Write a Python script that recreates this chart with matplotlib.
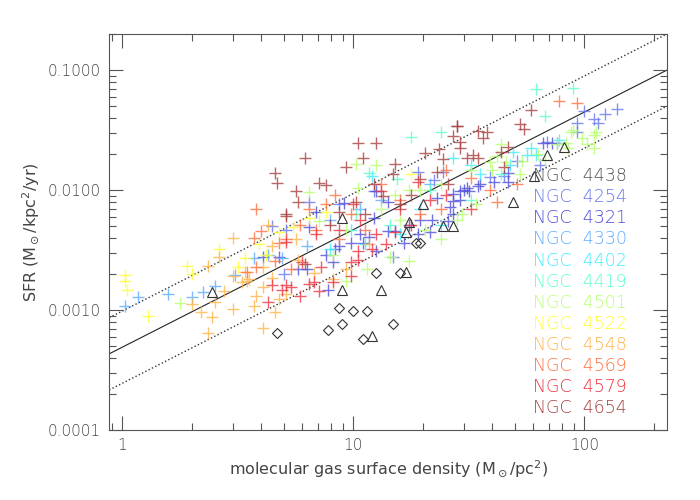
import numpy as np
import matplotlib
matplotlib.use("Agg")
import matplotlib.pyplot as plt
from matplotlib.ticker import LogLocator, FixedLocator, FixedFormatter, NullFormatter

# values are log10(gas surface density), log10(SFR)
n4438_tri = [(0.39, -2.85), (0.95, -2.23), (0.95, -2.83), (1.12, -2.83), (1.08, -3.22),
             (1.23, -2.68), (1.24, -2.27), (1.23, -2.35), (1.30, -2.12), (1.39, -2.30),
             (1.43, -2.30), (1.69, -2.10), (1.78, -1.88), (1.84, -1.71), (1.91, -1.64)]
n4438_dia = [(0.67, -3.19), (0.89, -3.17), (0.94, -2.98), (0.95, -3.12), (1.00, -3.01),
             (1.04, -3.24), (1.06, -3.01), (1.10, -2.69), (1.17, -3.12), (1.20, -2.69),
             (1.27, -2.44), (1.29, -2.44)]

n4254 = [(2.00, -1.34), (2.09, -1.37), (2.14, -1.32), (2.04, -1.41), (2.06, -1.44),
         (1.97, -1.44), (1.97, -1.52), (1.84, -1.60), (1.88, -1.61), (1.81, -1.79),
         (0.65, -2.30), (0.71, -2.33), (0.70, -2.70), (1.17, -2.56), (0.81, -2.10),
         (1.09, -2.01), (1.28, -1.85), (1.39, -1.85), (1.35, -1.92), (1.71, -1.76),
         (1.65, -1.88), (1.59, -1.89), (0.94, -2.12)]
n4321 = [(0.61, -2.56), (0.68, -2.56), (1.43, -2.03), (1.15, -2.10), (1.34, -2.25),
         (1.41, -2.26), (0.81, -2.31), (0.84, -2.18), (1.09, -2.23), (1.07, -2.39),
         (1.15, -2.34), (1.67, -1.86), (1.82, -1.61), (1.86, -1.61), (1.67, -1.93),
         (1.55, -1.95), (1.49, -1.98), (1.46, -2.01), (1.43, -2.09), (1.42, -2.14),
         (1.43, -2.20), (1.36, -2.07), (1.50, -2.01), (0.76, -2.66), (0.89, -2.83),
         (0.88, -2.54), (0.91, -2.60), (0.94, -2.47), (0.99, -2.44), (1.04, -2.44),
         (1.10, -2.51), (1.22, -2.44), (1.33, -2.35), (1.03, -2.37), (0.80, -2.66),
         (0.92, -2.49), (1.28, -2.37), (1.48, -2.00), (1.54, -1.97), (1.46, -2.08),
         (1.61, -1.93), (1.29, -2.25), (1.18, -2.34), (1.24, -2.29), (0.96, -2.11),
         (1.10, -2.01)]
n4330 = [(0.01, -2.97), (0.07, -2.89), (0.20, -2.87), (0.30, -2.89), (0.35, -2.85),
         (0.40, -2.80), (0.49, -2.71), (0.57, -2.57), (0.63, -2.54), (0.69, -2.57),
         (0.80, -2.47), (0.90, -2.25), (1.03, -2.16), (1.12, -2.08), (1.33, -1.95)]
n4402 = [(1.08, -1.88), (1.89, -1.58), (1.77, -1.65), (1.79, -1.71), (1.43, -1.73),
         (1.69, -1.68), (1.75, -1.71), (1.29, -2.16), (1.38, -2.29), (1.20, -2.37),
         (0.99, -2.33), (1.05, -2.45), (1.55, -1.87), (1.51, -1.79), (0.90, -2.49),
         (1.68, -1.79)]
n4419 = [(1.25, -1.56), (1.38, -1.52), (1.07, -1.86), (1.19, -1.91), (1.79, -1.16),
         (1.95, -1.15), (1.83, -1.38), (1.33, -2.00), (1.51, -2.08), (1.64, -1.87),
         (1.01, -2.20), (1.16, -2.29)]
n4501 = [(0.25, -2.94), (1.01, -1.78), (1.10, -1.79), (0.81, -2.02), (0.85, -2.26),
         (1.02, -1.98), (1.24, -2.00), (1.29, -2.00), (1.94, -1.52), (2.05, -1.52),
         (1.99, -1.57), (2.01, -1.62), (2.04, -1.65), (1.92, -1.61), (1.64, -1.62),
         (1.59, -1.77), (1.60, -1.83), (1.95, -1.50), (2.04, -1.54), (1.88, -1.62),
         (1.93, -1.65), (1.80, -1.70), (1.73, -1.76), (1.66, -1.77), (1.45, -2.25),
         (1.62, -1.72), (1.06, -2.66), (1.24, -2.59), (0.97, -2.76), (0.91, -2.54),
         (1.16, -2.56), (1.38, -2.41), (1.31, -2.33), (1.20, -2.25), (1.12, -2.16),
         (0.97, -2.33), (1.47, -2.20), (1.53, -2.12), (1.72, -1.87), (1.83, -1.75),
         (1.51, -1.83), (1.38, -1.95), (1.18, -2.04)]
n4522 = [(0.01, -2.71), (0.01, -2.76), (0.02, -2.83), (0.11, -3.05), (0.28, -2.63),
         (0.30, -2.70), (0.42, -2.49), (0.53, -2.57), (0.50, -2.64), (0.59, -2.45),
         (0.68, -2.35), (0.74, -2.31), (0.88, -2.18), (1.25, -1.87), (0.81, -2.23),
         (0.62, -2.54)]
n4548 = [(0.48, -2.40), (0.37, -2.63), (0.42, -2.56), (0.40, -2.93), (0.34, -3.02),
         (0.39, -3.06), (0.37, -3.19), (0.48, -2.99), (0.44, -2.84), (0.52, -2.77),
         (0.55, -2.74), (0.61, -2.81), (0.58, -2.88), (0.57, -2.97), (0.61, -3.15),
         (0.66, -3.02), (0.65, -2.73), (0.65, -2.47), (0.61, -2.64), (0.71, -2.87),
         (0.75, -2.41), (0.53, -2.68), (0.63, -2.29), (0.48, -2.72), (0.68, -2.91),
         (0.76, -2.58), (0.83, -2.69), (0.97, -2.66), (0.91, -2.74), (1.07, -2.45),
         (0.30, -2.95), (0.54, -2.76)]
n4569 = [(0.58, -2.16), (0.60, -2.34), (0.57, -2.40), (0.68, -2.44), (0.71, -2.41),
         (0.58, -2.64), (0.54, -2.68), (0.92, -2.04), (1.12, -1.95), (1.62, -2.10),
         (1.71, -1.95), (1.89, -1.26), (1.97, -1.27), (1.51, -1.90), (1.20, -2.08),
         (1.29, -2.20), (0.77, -2.29), (0.84, -2.33), (0.66, -2.59), (0.94, -2.41),
         (1.05, -2.33), (0.73, -2.66), (1.38, -2.16), (1.40, -1.83), (1.59, -2.00),
         (0.88, -2.12), (0.81, -2.16), (0.99, -2.20)]
n4579 = [(0.65, -2.79), (0.63, -2.93), (0.71, -2.79), (0.69, -2.83), (0.77, -2.88),
         (0.85, -2.84), (0.81, -2.78), (0.83, -2.77), (0.78, -2.60), (0.91, -2.77),
         (0.99, -2.72), (1.02, -2.58), (0.99, -2.60), (1.02, -2.51), (1.10, -2.37),
         (1.18, -2.35), (0.84, -2.37), (0.71, -2.43), (0.73, -2.81), (1.12, -2.01),
         (1.00, -2.12), (1.28, -1.93), (1.08, -2.49), (1.03, -2.25), (1.20, -2.16),
         (1.25, -2.29), (1.33, -2.08), (0.94, -2.33), (1.40, -2.04), (1.51, -2.16),
         (1.14, -2.45), (0.86, -2.64)]
n4654 = [(0.66, -1.86), (0.67, -1.94), (0.71, -2.22), (0.75, -2.01), (0.76, -2.10),
         (0.71, -2.20), (0.79, -1.73), (0.85, -1.94), (0.88, -1.96), (0.97, -1.81),
         (1.02, -1.61), (1.10, -1.61), (1.04, -1.73), (1.18, -1.78), (1.17, -1.87),
         (1.01, -2.10), (1.09, -1.95), (1.31, -1.69), (1.37, -1.66), (1.39, -1.74),
         (1.45, -1.47), (1.43, -1.55), (1.45, -1.47), (1.54, -1.51), (1.58, -1.52),
         (1.56, -1.57), (1.46, -1.60), (1.46, -1.65), (1.52, -1.71), (1.49, -1.73),
         (1.54, -1.73), (1.64, -1.68), (1.65, -1.81), (1.67, -1.64), (1.72, -1.45),
         (1.74, -1.49), (1.77, -1.33), (1.29, -1.91), (1.25, -2.04), (1.20, -2.12),
         (1.13, -2.05), (0.94, -2.18), (1.36, -1.85), (1.41, -1.95), (0.90, -2.29),
         (0.79, -2.62), (1.05, -2.20)]

galaxies = [("NGC  4254", n4254, "#6677ee"), ("NGC  4321", n4321, "#4d4dd9"),
            ("NGC  4330", n4330, "#5cacff"), ("NGC  4402", n4402, "#3ceeff"),
            ("NGC  4419", n4419, "#5effc8"), ("NGC  4501", n4501, "#b8ff70"),
            ("NGC  4522", n4522, "#ffff30"), ("NGC  4548", n4548, "#ffb44a"),
            ("NGC  4569", n4569, "#ff7040"), ("NGC  4579", n4579, "#ee3340"),
            ("NGC  4654", n4654, "#a84040")]

# SFR = coef * sigma^slope, dotted lines a factor 2 either side
fit_coef = 4.9e-4
fit_slope = 0.98
fit_factor = 2.0

txt = "#444444"
plt.rcParams["font.family"] = "DejaVu Sans"
plt.rcParams["font.weight"] = "light"
plt.rcParams["mathtext.default"] = "regular"

fig = plt.figure(figsize=(7, 5), dpi=100)
ax = fig.add_axes([0.156, 0.14, 0.797, 0.792])
ax.set_xscale("log")
ax.set_yscale("log")
ax.set_xlim(0.878, 228)
ax.set_ylim(1e-4, 0.2)


def unlog(pts):
    a = np.array(pts)
    return 10 ** a[:, 0], 10 ** a[:, 1]


for name, pts, col in galaxies:
    x, y = unlog(pts)
    ax.plot(x, y, "+", color=col, ms=8, mew=1.0, alpha=0.8, zorder=2)

x, y = unlog(n4438_tri)
ax.plot(x, y, "^", ms=7, mfc="none", mec="#333333", mew=0.8, zorder=3)
x, y = unlog(n4438_dia)
ax.plot(x, y, "D", ms=5, mfc="none", mec="#333333", mew=0.8, zorder=3)

xs = np.logspace(np.log10(0.878), np.log10(228), 50)
fit = fit_coef * xs ** fit_slope
ax.plot(xs, fit, "-", color="#222222", lw=0.8, zorder=1)
ax.plot(xs, fit * fit_factor, ":", color="#333333", lw=1.0, zorder=1)
ax.plot(xs, fit / fit_factor, ":", color="#333333", lw=1.0, zorder=1)

# legend as coloured text
labels = [("NGC  4438", "#555555")] + [(g[0], g[2]) for g in galaxies]
for i, (lab, col) in enumerate(labels):
    ax.text(0.76, 0.641 - i * 0.0533, lab, color=col, fontsize=12.5,
            transform=ax.transAxes, va="center", ha="left", zorder=4)

ax.yaxis.set_major_locator(FixedLocator([1e-4, 1e-3, 1e-2, 1e-1]))
ax.yaxis.set_major_formatter(FixedFormatter(["0.0001", "0.0010", "0.0100", "0.1000"]))
ax.yaxis.set_minor_locator(LogLocator(base=10, subs=np.arange(2, 10)))
ax.yaxis.set_minor_formatter(NullFormatter())
ax.xaxis.set_major_locator(FixedLocator([1, 10, 100]))
ax.xaxis.set_major_formatter(FixedFormatter(["1", "10", "100"]))
ax.xaxis.set_minor_locator(LogLocator(base=10, subs=np.arange(2, 10)))
ax.xaxis.set_minor_formatter(NullFormatter())

ax.tick_params(which="both", direction="in", top=True, right=True,
               colors="#555555", labelcolor=txt, labelsize=11, width=0.8)
ax.tick_params(which="major", length=10, pad=6)
ax.tick_params(which="minor", length=5)
for s in ax.spines.values():
    s.set_color("#555555")
    s.set_linewidth(0.8)

ax.set_xlabel(r"molecular gas surface density (M$_\odot$/pc$^2$)", color=txt, fontsize=11.5)
ax.set_ylabel(r"SFR (M$_\odot$/kpc$^2$/yr)", color=txt, fontsize=11.5)

fig.savefig("out.png", dpi=100)
